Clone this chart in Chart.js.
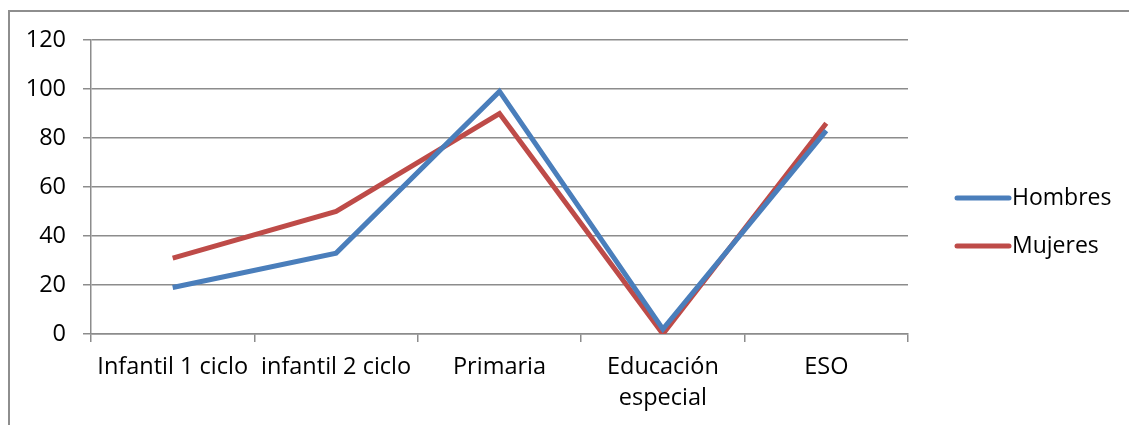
<!DOCTYPE html>
<html>
<head>
<meta charset="utf-8">
<script src="https://cdn.jsdelivr.net/npm/chart.js@4.4.1/dist/chart.umd.min.js"></script>
<style>
  body { margin: 0; overflow: hidden; background: #fff; }
  #wrap { position: relative; width: 1129px; height: 425px; }
  #frame {
    position: absolute; left: 8px; top: 10px; width: 1300px; height: 600px;
    border: 2px solid #8e8e8e; pointer-events: none;
  }
  canvas { position: absolute; left: 0; top: 0; }
</style>
</head>
<body>
<div id="wrap">
  <div id="frame"></div>
  <canvas id="myChart" width="1129" height="425"></canvas>
</div>
<script>
var categories = ["Infantil 1 ciclo", "infantil 2 ciclo", "Primaria", ["Educación", "especial"], "ESO"];
var hombres = [19, 33, 99, 2, 83];
var mujeres = [31, 50, 90, 0, 86];
var seriesNames = ["Hombres", "Mujeres"];
var seriesColors = ["#4a7ebb", "#be4b48"];

var FONT = "'Open Sans'";

// legend drawn by hand, excel style (line sample + label to the right)
var sideLegend = {
  id: "sideLegend",
  afterDraw: function(chart) {
    var c = chart.ctx;
    c.save();
    chart.data.datasets.forEach(function(ds, i) {
      var y = 198 + i * 48;
      c.strokeStyle = ds.borderColor;
      c.lineWidth = 5;
      c.lineCap = "round";
      c.beginPath();
      c.moveTo(957, y);
      c.lineTo(1009, y);
      c.stroke();
      c.fillStyle = "#000";
      c.font = "23px " + FONT;
      c.textBaseline = "middle";
      c.textAlign = "left";
      c.fillText(ds.label, 1012, y);
    });
    c.restore();
  }
};

var ctx = document.getElementById("myChart");

var myLineChart = new Chart(ctx, {
  type: "line",
  data: {
    labels: categories,
    datasets: [
      {
        label: seriesNames[0],
        data: hombres,
        borderColor: seriesColors[0],
        backgroundColor: seriesColors[0],
        borderWidth: 5,
        pointRadius: 0,
        tension: 0
      },
      {
        label: seriesNames[1],
        data: mujeres,
        borderColor: seriesColors[1],
        backgroundColor: seriesColors[1],
        borderWidth: 5,
        pointRadius: 0,
        tension: 0
      }
    ]
  },
  options: {
    responsive: false,
    animation: false,
    layout: { padding: { top: 40, right: 221, bottom: 0, left: 0 } },
    plugins: {
      legend: { display: false },
      tooltip: { enabled: false }
    },
    scales: {
      x: {
        offset: true,
        afterFit: function(s) { s.height = 91; },
        grid: {
          offset: true,
          drawOnChartArea: false,
          drawTicks: true,
          tickLength: 8,
          color: "#8c8c8c",
          lineWidth: 1.5
        },
        border: { color: "#8c8c8c", width: 1.5 },
        ticks: {
          color: "#000",
          font: { family: FONT, size: 23.5, lineHeight: 1.3 },
          padding: 10,
          autoSkip: false,
          maxRotation: 0
        }
      },
      y: {
        min: 0,
        max: 120,
        afterFit: function(s) { s.width = 91; },
        grid: {
          tickLength: 8,
          color: "#8c8c8c",
          lineWidth: 1.5
        },
        border: { color: "#8c8c8c", width: 1.5 },
        ticks: {
          stepSize: 20,
          color: "#000",
          font: { family: FONT, size: 23.5 },
          padding: 17
        }
      }
    }
  },
  plugins: [sideLegend]
});
</script>
</body>
</html>
